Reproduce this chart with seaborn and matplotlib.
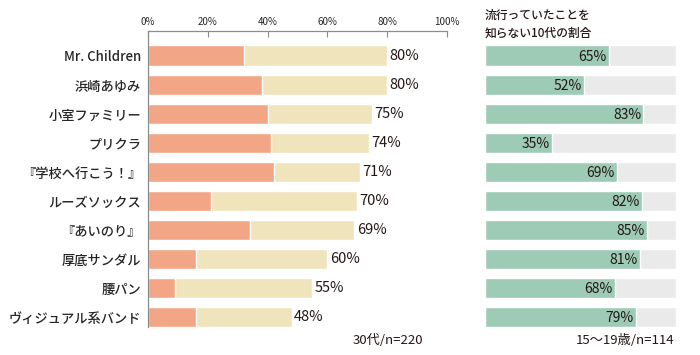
import matplotlib
matplotlib.use("Agg")
import matplotlib.pyplot as plt
import seaborn as sns
import pandas as pd

items = ["Mr. Children", "浜崎あゆみ", "小室ファミリー", "プリクラ", "『学校へ行こう！』",
         "ルーズソックス", "『あいのり』", "厚底サンダル", "腰パン", "ヴィジュアル系バンド"]
known_30s = [80, 80, 75, 74, 71, 70, 69, 60, 55, 48]          # 30代 total
hooked_30s = [32, 38, 40, 41, 42, 21, 34, 16, 9, 16]          # darker segment (approx.)
unknown_teens = [65, 52, 83, 35, 69, 82, 85, 81, 68, 79]      # 10代 who didn't know
full_scale = [100] * len(items)

xticks = [0, 20, 40, 60, 80, 100]

C = {
    "orange": "#F3A685",
    "cream":  "#F0E4BD",
    "green":  "#9DCBB6",
    "gray":   "#E9EAE9",
    "spine":  "#8C8C8C",
    "text":   "#231815",
}

sns.set_theme(style="white")
plt.rcParams["font.family"] = ["Noto Sans CJK JP", "DejaVu Sans"]
plt.rcParams["text.color"] = C["text"]

df = pd.DataFrame({"item": items, "total": known_30s, "hooked": hooked_30s,
                   "teens": unknown_teens, "full": full_scale})

fig = plt.figure(figsize=(7, 3.55), dpi=100)
ax = fig.add_axes([0.2114, 0.0775, 0.4272, 0.8352])
ax2 = fig.add_axes([0.6924, 0.0775, 0.2733, 0.8352])

bw = 0.72
sns.barplot(data=df, x="total", y="item", color=C["cream"], width=bw,
            saturation=1, ax=ax, orient="h")
sns.barplot(data=df, x="hooked", y="item", color=C["orange"], width=bw,
            saturation=1, ax=ax, orient="h")

for i, v in enumerate(known_30s):
    ax.text(v + 0.8, i, f"{v}%", va="center", ha="left", fontsize=10.5,
            color=C["text"])

ax.set_xlim(0, 100)
ax.set_ylim(9.36, -0.86)
ax.set_xticks(xticks)
ax.set_xticklabels([f"{t}%" for t in xticks], fontsize=7)
ax.xaxis.tick_top()
ax.tick_params(axis="x", direction="in", length=4, width=0.8, color=C["spine"],
               pad=3, top=True, bottom=False)
ax.tick_params(axis="y", length=0, pad=5, labelsize=9.5)
for lbl in ax.get_yticklabels():
    lbl.set_fontweight("medium")
ax.set_xlabel("")
ax.set_ylabel("")
for s in ["right", "bottom"]:
    ax.spines[s].set_visible(False)
for s in ["top", "left"]:
    ax.spines[s].set_color(C["spine"])
    ax.spines[s].set_linewidth(0.9)

sns.barplot(data=df, x="full", y="item", color=C["gray"], width=bw,
            saturation=1, ax=ax2, orient="h")
sns.barplot(data=df, x="teens", y="item", color=C["green"], width=bw,
            saturation=1, ax=ax2, orient="h")
for i, v in enumerate(unknown_teens):
    ax2.text(v - 1.2, i + 0.04, f"{v}%", va="center", ha="right", fontsize=10,
             color=C["text"])
ax2.set_xlim(0, 100)
ax2.set_ylim(9.36, -0.86)
ax2.set_xticks([])
ax2.set_yticks([])
ax2.set_xlabel("")
ax2.set_ylabel("")
for s in ax2.spines.values():
    s.set_visible(False)

fig.text(0.6924, 0.958, "流行っていたことを", fontsize=8.5, ha="left", va="center",
         fontweight="medium")
fig.text(0.6924, 0.907, "知らない10代の割合", fontsize=8.5, ha="left", va="center",
         fontweight="medium")
fig.text(0.604, 0.042, "30代/n=220", fontsize=9.5, ha="right", va="center")
fig.text(0.964, 0.042, "15～19歳/n=114", fontsize=9.5, ha="right", va="center")

fig.savefig("out.png", dpi=100, facecolor="white")
